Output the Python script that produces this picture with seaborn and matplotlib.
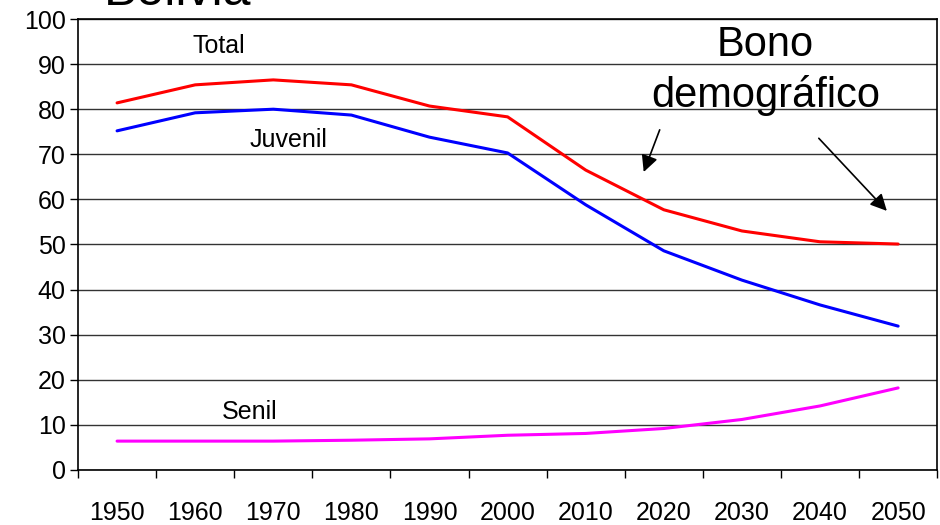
import pandas as pd
import matplotlib
matplotlib.use("Agg")
import matplotlib.pyplot as plt
import seaborn as sns

years = ["1950", "1960", "1970", "1980", "1990", "2000", "2010", "2020", "2030", "2040", "2050"]
total = [81.4, 85.4, 86.5, 85.4, 80.7, 78.3, 66.5, 57.7, 53.0, 50.6, 50.1]
juvenil = [75.2, 79.2, 80.0, 78.7, 73.8, 70.3, 58.8, 48.6, 42.1, 36.6, 31.9]
senil = [6.4, 6.4, 6.4, 6.6, 6.9, 7.7, 8.1, 9.2, 11.2, 14.2, 18.2]

series_names = ["Total", "Juvenil", "Senil"]
colors = {"Total": "#ff0000", "Juvenil": "#0000ff", "Senil": "#ff00ff"}

rows = []
for name, vals in zip(series_names, [total, juvenil, senil]):
    for i, v in enumerate(vals):
        rows.append({"pos": i, "serie": name, "valor": v})
df = pd.DataFrame(rows)

sns.set_style("white")
plt.rcParams["font.family"] = ["Liberation Sans", "DejaVu Sans"]
plt.rcParams["text.color"] = "black"
plt.rcParams["xtick.color"] = "black"
plt.rcParams["ytick.color"] = "black"

fig = plt.figure(figsize=(9.4, 5.25), dpi=100)
ax = fig.add_axes([0.083, 0.1048, 0.914, 0.859])

sns.lineplot(data=df, x="pos", y="valor", hue="serie", palette=colors,
             linewidth=2.2, legend=False, ax=ax)

ax.set_xlim(-0.5, len(years) - 0.5)
ax.set_ylim(0, 100)
ax.set_yticks(range(0, 101, 10))
ax.grid(axis="y", color="#333333", linewidth=1)
ax.set_axisbelow(True)

# category axis: ticks between categories, labels at centers
ax.set_xticks([i - 0.5 for i in range(len(years) + 1)])
ax.set_xticklabels([])
ax.set_xticks(range(len(years)), minor=True)
ax.set_xticklabels(years, minor=True, fontsize=18)
ax.tick_params(axis="x", which="major", direction="out", length=6, width=1, bottom=True)
ax.tick_params(axis="x", which="minor", length=0, pad=22)
ax.tick_params(axis="y", direction="out", length=6, width=1, labelsize=18, left=True, pad=3)
ax.set_xlabel("")
ax.set_ylabel("")

for s in ax.spines.values():
    s.set_color("black")
    s.set_linewidth(1.2)

ax.text(1.3, 94.0, "Total", fontsize=18, ha="center", va="center")
ax.text(2.2, 73.2, "Juvenil", fontsize=18, ha="center", va="center")
ax.text(1.7, 12.9, "Senil", fontsize=18, ha="center", va="center")
ax.text(8.3, 94.2, "Bono", fontsize=30, ha="center", va="center")
ax.text(8.3, 83.1, "demográfico", fontsize=30, ha="center", va="center")

arrow = dict(arrowstyle="-|>", color="black", lw=1.2, mutation_scale=25)
ax.annotate("", xy=(6.73, 65.5), xytext=(6.96, 76.0), arrowprops=arrow)
ax.annotate("", xy=(9.88, 57.0), xytext=(8.96, 74.0), arrowprops=arrow)

# title sits partly above the canvas, as in the original slide crop
fig.text(0.11, 1.015, "Bolivia", fontsize=36, ha="left", va="center")

fig.savefig("out.png", dpi=100)
